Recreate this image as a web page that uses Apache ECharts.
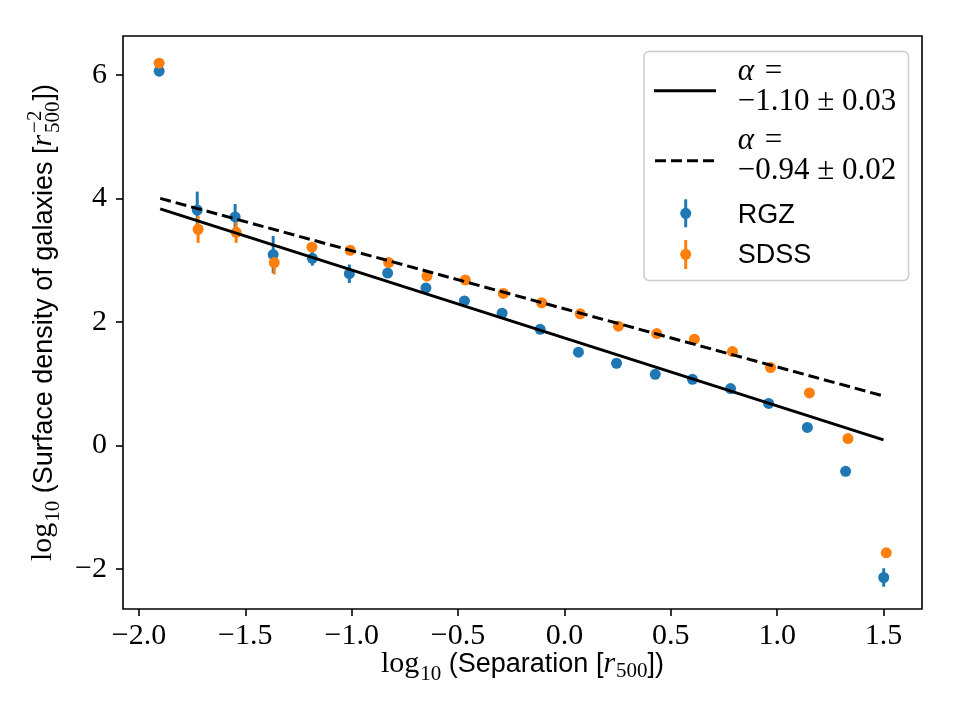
<!DOCTYPE html>
<html><head><meta charset="utf-8">
<script src="https://cdn.jsdelivr.net/npm/echarts@6/dist/echarts.min.js"></script>
<style>html,body{margin:0;padding:0;background:#fff}#c{width:960px;height:720px}</style>
</head><body><div id="c"></div>
<script>
// ---- data ----
const xRGZ = [-1.905, -1.726, -1.548, -1.369, -1.185, -1.011, -0.831, -0.651, -0.470, -0.293, -0.114, 0.066, 0.245, 0.427, 0.602, 0.781, 0.960, 1.142, 1.322, 1.501];
const yRGZ = [6.06, 3.81, 3.70, 3.09, 3.03, 2.78, 2.79, 2.55, 2.34, 2.14, 1.88, 1.51, 1.33, 1.15, 1.07, 0.92, 0.68, 0.29, -0.42, -2.14];
const eRGZ = [0.05, 0.30, 0.21, 0.30, 0.12, 0.15, 0.06, 0.05, 0.05, 0.05, 0.05, 0.05, 0.05, 0.05, 0.05, 0.05, 0.05, 0.05, 0.06, 0.15];
const xSDSS = [-1.905, -1.722, -1.543, -1.364, -1.187, -1.007, -0.826, -0.646, -0.466, -0.287, -0.107, 0.074, 0.254, 0.434, 0.611, 0.790, 0.969, 1.152, 1.333, 1.513];
const ySDSS = [6.19, 3.50, 3.45, 2.96, 3.21, 3.16, 2.96, 2.74, 2.68, 2.46, 2.31, 2.13, 1.93, 1.81, 1.72, 1.52, 1.26, 0.85, 0.11, -1.74];
const eSDSS = [0.05, 0.22, 0.17, 0.19, 0.06, 0.05, 0.05, 0.05, 0.05, 0.05, 0.05, 0.05, 0.05, 0.05, 0.05, 0.05, 0.05, 0.05, 0.05, 0.06];
const fitX = [-1.9, 1.5];
const fitRGZ = [3.83, 0.09];
const fitSDSS = [4.00, 0.80];
const xTicks = [-2.0, -1.5, -1.0, -0.5, 0.0, 0.5, 1.0, 1.5];
const yTicks = [-2, 0, 2, 4, 6];
const legendFits = ['−1.10 ± 0.03', '−0.94 ± 0.02'];
const seriesNames = ['RGZ', 'SDSS'];

// ---- style ----
const BLUE = '#1f77b4', ORANGE = '#ff7f0e';
const SERIF = "'Liberation Serif', serif";
const SANS = "'Liberation Sans', sans-serif";
const FS = 30, FSS = 27, SUB = 21;

const cv = document.createElement('canvas').getContext('2d');
function tw(font, t) { cv.font = font; return cv.measureText(t).width; }
function layout(pieces) {
  let x = 0, prevX = 0; const items = [];
  for (const p of pieces) {
    const font = (p.ital ? 'italic ' : '') + p.size + 'px ' + p.fam;
    const w = tw(font, p.t);
    let px;
    if (p.stack) { px = prevX; x = Math.max(x, prevX + w); }
    else { px = x + (p.kern || 0); x = px + w; }
    items.push({ px, w, font, p });
    prevX = px;
  }
  return { items, width: x };
}
function toElems(lay, color) {
  return lay.items.map(it => ({
    type: 'text', x: it.px, y: (it.p.dy || 0) - 0.34 * it.p.size,
    style: { text: it.p.t, font: it.font, fill: color || '#000', textAlign: 'left', textVerticalAlign: 'middle' }
  }));
}

const xTitle = layout([
  { t: 'log', fam: SERIF, size: FS },
  { t: '10', fam: SERIF, size: SUB, dy: 7.5, kern: 1 },
  { t: ' (Separation [', fam: SANS, size: FSS },
  { t: 'r', fam: SERIF, size: FS, ital: true },
  { t: '500', fam: SERIF, size: SUB, dy: 4.5, kern: 1 },
  { t: '])', fam: SANS, size: FSS }
]);
const yTitle = layout([
  { t: 'log', fam: SERIF, size: FS },
  { t: '10', fam: SERIF, size: SUB, dy: 7.5, kern: 1 },
  { t: ' (Surface density of galaxies [', fam: SANS, size: FSS },
  { t: 'r', fam: SERIF, size: FS, ital: true },
  { t: '−2', fam: SERIF, size: SUB, dy: -11, kern: 2 },
  { t: '500', fam: SERIF, size: SUB, dy: 7, stack: true },
  { t: '])', fam: SANS, size: FSS, kern: 1 }
]);

const graphics = [];
graphics.push({ type: 'group', x: 522.5 - xTitle.width / 2, y: 674, children: toElems(xTitle) });
graphics.push({ type: 'group', x: 53.5, y: 322.5 + yTitle.width / 2, rotation: Math.PI / 2, children: toElems(yTitle) });

// legend
const leg = [];
leg.push({ type: 'rect', shape: { x: 644, y: 51.5, width: 264.5, height: 229, r: 5 },
  style: { fill: 'rgba(255,255,255,0.8)', stroke: '#cccccc', lineWidth: 1.5 } });
leg.push({ type: 'line', shape: { x1: 654, y1: 90.7, x2: 716, y2: 90.7 }, style: { stroke: '#000', lineWidth: 3 } });
leg.push({ type: 'line', shape: { x1: 655, y1: 160.7, x2: 716, y2: 160.7 }, style: { stroke: '#000', lineWidth: 3, lineDash: [11, 5] } });
const fitBase = [[82.7, 112.7], [151, 181.7]];
legendFits.forEach((s, i) => {
  const l1 = layout([{ t: 'α', fam: SERIF, size: FS + 1, ital: true }, { t: ' =', fam: SERIF, size: FS + 1, kern: 3 }]);
  const l2 = layout([{ t: s, fam: SERIF, size: FS + 1 }]);
  leg.push({ type: 'group', x: 737.7, y: fitBase[i][0], children: toElems(l1) });
  leg.push({ type: 'group', x: 737.7, y: fitBase[i][1], children: toElems(l2) });
});
const markY = [[213.3, 199.3, 227.3, 224.3], [254.3, 240, 269, 264.3]];
[BLUE, ORANGE].forEach((c, i) => {
  leg.push({ type: 'line', shape: { x1: 685.7, y1: markY[i][1], x2: 685.7, y2: markY[i][2] }, style: { stroke: c, lineWidth: 3 } });
  leg.push({ type: 'circle', shape: { cx: 685.7, cy: markY[i][0], r: 5.5 }, style: { fill: c } });
  const l = layout([{ t: seriesNames[i], fam: SANS, size: FSS }]);
  leg.push({ type: 'group', x: 737.7, y: markY[i][3], children: toElems(l) });
});
graphics.push({ type: 'group', z: 100, children: leg });

function errRender(color) {
  return function (params, api) {
    const x = api.value(0), y = api.value(1), e = api.value(2);
    const p1 = api.coord([x, y - e]), p2 = api.coord([x, y + e]);
    return { type: 'line', shape: { x1: p1[0], y1: p1[1], x2: p2[0], y2: p2[1] }, style: { stroke: color, lineWidth: 3 } };
  };
}
const fmtX = v => (v < 0 ? '−' : '') + Math.abs(v).toFixed(1);
const fmtY = v => (v < 0 ? '−' : '') + Math.abs(v).toFixed(0);

const chart = echarts.init(document.getElementById('c'), null, { renderer: 'canvas' });
chart.setOption({
  animation: false,
  backgroundColor: '#fff',
  grid: { left: 123, right: 38, top: 36, bottom: 111, show: true, borderColor: '#000', borderWidth: 1.6, backgroundColor: 'transparent' },
  xAxis: {
    type: 'value', min: -2.075, max: 1.681, position: 'bottom',
    splitLine: { show: false }, axisLine: { show: false, onZero: false },
    axisTick: { show: true, inside: false, length: 7, lineStyle: { color: '#000', width: 1.6 }, customValues: xTicks },
    axisLabel: { customValues: xTicks, formatter: fmtX, fontFamily: SERIF, fontSize: FS, color: '#000', margin: 12 }
  },
  yAxis: {
    type: 'value', min: -2.65, max: 6.63, position: 'left',
    splitLine: { show: false }, axisLine: { show: false, onZero: false },
    axisTick: { show: true, inside: false, length: 7, lineStyle: { color: '#000', width: 1.6 }, customValues: yTicks },
    axisLabel: { customValues: yTicks, formatter: fmtY, fontFamily: SERIF, fontSize: FS, color: '#000', margin: 16 }
  },
  graphic: graphics,
  series: [
    { type: 'line', data: fitX.map((x, i) => [x, fitRGZ[i]]), showSymbol: false, lineStyle: { color: '#000', width: 3, type: 'solid' } },
    { type: 'line', data: fitX.map((x, i) => [x, fitSDSS[i]]), showSymbol: false, lineStyle: { color: '#000', width: 3, type: [11, 5] } },
    { type: 'custom', name: 'RGZ err', data: xRGZ.map((x, i) => [x, yRGZ[i], eRGZ[i]]), encode: { x: 0, y: 1 }, renderItem: errRender(BLUE) },
    { type: 'scatter', name: 'RGZ', data: xRGZ.map((x, i) => [x, yRGZ[i]]), symbolSize: 11, itemStyle: { color: BLUE, opacity: 1 } },
    { type: 'custom', name: 'SDSS err', data: xSDSS.map((x, i) => [x, ySDSS[i], eSDSS[i]]), encode: { x: 0, y: 1 }, renderItem: errRender(ORANGE) },
    { type: 'scatter', name: 'SDSS', data: xSDSS.map((x, i) => [x, ySDSS[i]]), symbolSize: 11, itemStyle: { color: ORANGE, opacity: 1 } }
  ]
});
</script></body></html>
